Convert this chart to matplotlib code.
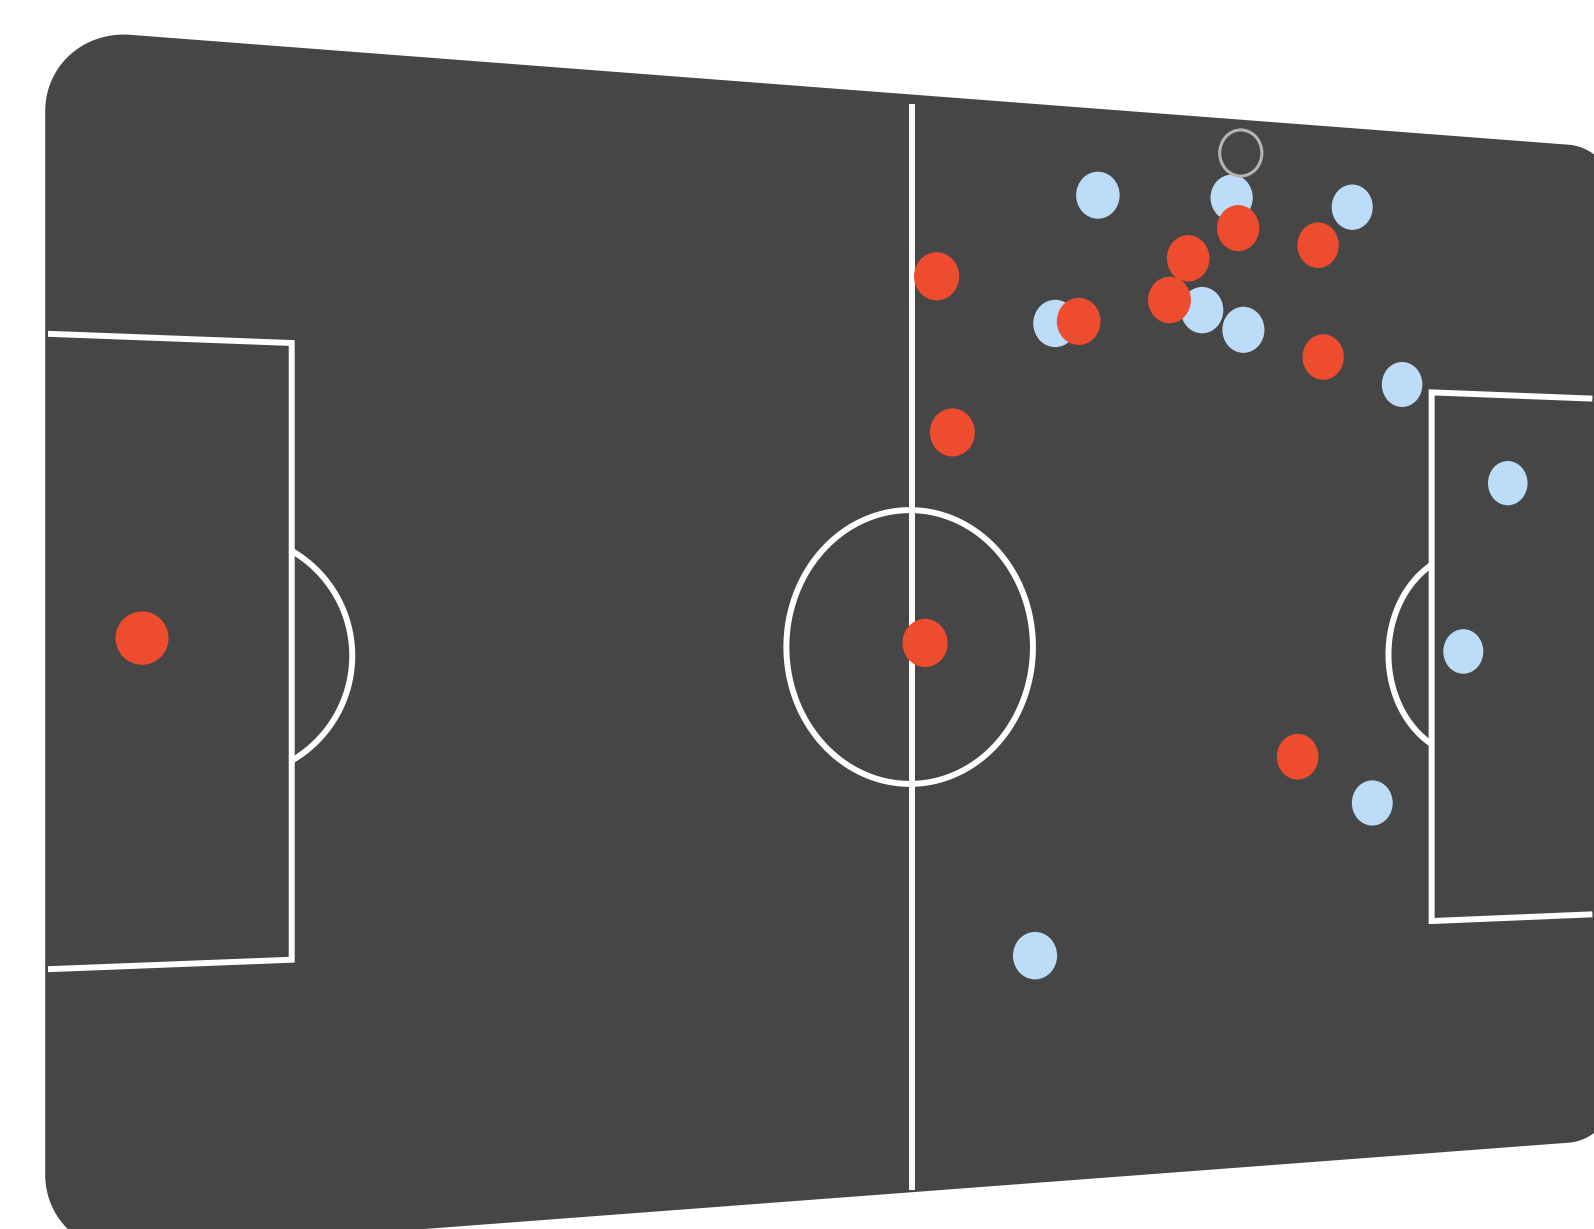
import numpy as np
import matplotlib
matplotlib.use("Agg")
import matplotlib.pyplot as plt
from matplotlib.patches import Ellipse, Polygon
from matplotlib.transforms import Transform

# positions in pitch metres: x along the length from the left goal line, y from the top touchline
red_x = [5.1, 53.4, 54.2, 55.3, 64.3, 72.4, 71.0, 76.2, 82.4, 82.8, 80.8]
red_y = [33.5, 33.75, 10.9, 20.6, 13.3, 8.9, 11.65, 6.75, 7.55, 14.9, 41.2]
blue_x = [65.7, 75.7, 85.1, 62.6, 73.45, 76.6, 89.1, 97.8, 94.1, 86.7, 61.15]
blue_y = [5.2, 4.8, 4.9, 13.5, 12.2, 13.35, 16.5, 22.9, 34.3, 44.35, 53.5]
ball_x = [76.4]
ball_y = [1.85]

PITCH = "#464646"; RED = "#ee4c2e"; BLUE = "#bcdcf8"; BALL = "#b4b4b4"
L, W = 105.0, 68.0
BOX_D = 13.5
BOX_Y = {0.0: (16.6, 51.9), L: (16.95, 52.35)}
ARC_C, ARC_R, ARC_YC = 10.1, 6.9, 34.5
CIRC_R = 8.5
DOT_R = 1.5
GX, GY = 0.0025714, 0.0022438


class Tilt(Transform):
    """pitch metres -> screen pixels, the right-hand end leaning away from the viewer"""
    input_dims = output_dims = 2
    is_separable = False
    has_inverse = False

    def transform_non_affine(self, xy):
        xy = np.asarray(xy, float)
        one = xy.ndim == 1
        xy = np.atleast_2d(xy)
        x, y = xy[:, 0], xy[:, 1]
        sx = (48 + 18.803 * x) / (1 + GX * x)
        sy = 647 + (y - 34) * 18.0 / (1 + GY * x)
        out = np.column_stack([sx, sy])
        return out[0] if one else out


def rounded_rect(x0, y0, x1, y1, r, n=40):
    pts = []
    for cx, cy, a0 in ((x1 - r, y0 + r, -90), (x1 - r, y1 - r, 0), (x0 + r, y1 - r, 90), (x0 + r, y0 + r, 180)):
        t = np.radians(np.linspace(a0, a0 + 90, n))
        pts.append(np.column_stack([cx + r * np.cos(t), cy + r * np.sin(t)]))
    return np.vstack(pts)


def seg(p, q, n=60):
    return np.linspace(p[0], q[0], n), np.linspace(p[1], q[1], n)


fig = plt.figure(figsize=(15.94, 12.29), dpi=100)
ax = fig.add_axes([0, 0, 1, 1])
ax.set_xlim(0, 1594); ax.set_ylim(1229, 0); ax.axis("off")
tilt = Tilt()
T = tilt + ax.transData

# ---- pitch surface ----
ax.add_patch(Polygon(rounded_rect(-0.15, -0.35, L + 2.6, W - 0.1, 4.6), closed=True,
                     fc=PITCH, ec="none", transform=T, zorder=0))

lk = dict(color="white", lw=4.3, transform=T, zorder=1, solid_capstyle="butt", solid_joinstyle="miter")

# halfway line + centre circle
ax.plot(*seg((L / 2, 0.3), (L / 2, W - 0.3)), **lk)
t = np.linspace(0, 2 * np.pi, 300)
ax.plot(L / 2 + CIRC_R * np.cos(t), W / 2 + CIRC_R * np.sin(t), **lk)

# penalty boxes and arcs
for gx, d in ((0.0, 1), (L, -1)):
    bx = gx + d * BOX_D
    y0, y1 = BOX_Y[gx]
    xs, ys = [], []
    for p, q in (((gx, y0), (bx, y0)), ((bx, y0), (bx, y1)), ((bx, y1), (gx, y1))):
        a, b = seg(p, q); xs += list(a); ys += list(b)
    ax.plot(xs, ys, **lk)
    cx = gx + d * ARC_C
    half = np.arccos((BOX_D - ARC_C) / ARC_R)
    t = np.linspace(-half, half, 100)
    ax.plot(cx + d * ARC_R * np.cos(t), ARC_YC + ARC_R * np.sin(t), **lk)


# ---- players and ball ----
def dot(x, y, **kw):
    # centre goes through the pitch projection; the marker stays upright and shrinks with distance
    sx, sy = tilt.transform((x, y))
    h = 2 * DOT_R * 18.0 / (1 + GY * x)
    w = h / np.sqrt(1 + GX * x)
    ax.add_patch(Ellipse((sx, sy), w, h, **kw))


for x, y in zip(blue_x, blue_y):
    dot(x, y, fc=BLUE, ec="none", zorder=2)
for x, y in zip(red_x, red_y):
    dot(x, y, fc=RED, ec="none", zorder=3)
for x, y in zip(ball_x, ball_y):
    dot(x, y, fc="none", ec=BALL, lw=2.2, zorder=4)

fig.savefig("out.png", dpi=100, facecolor="white")
